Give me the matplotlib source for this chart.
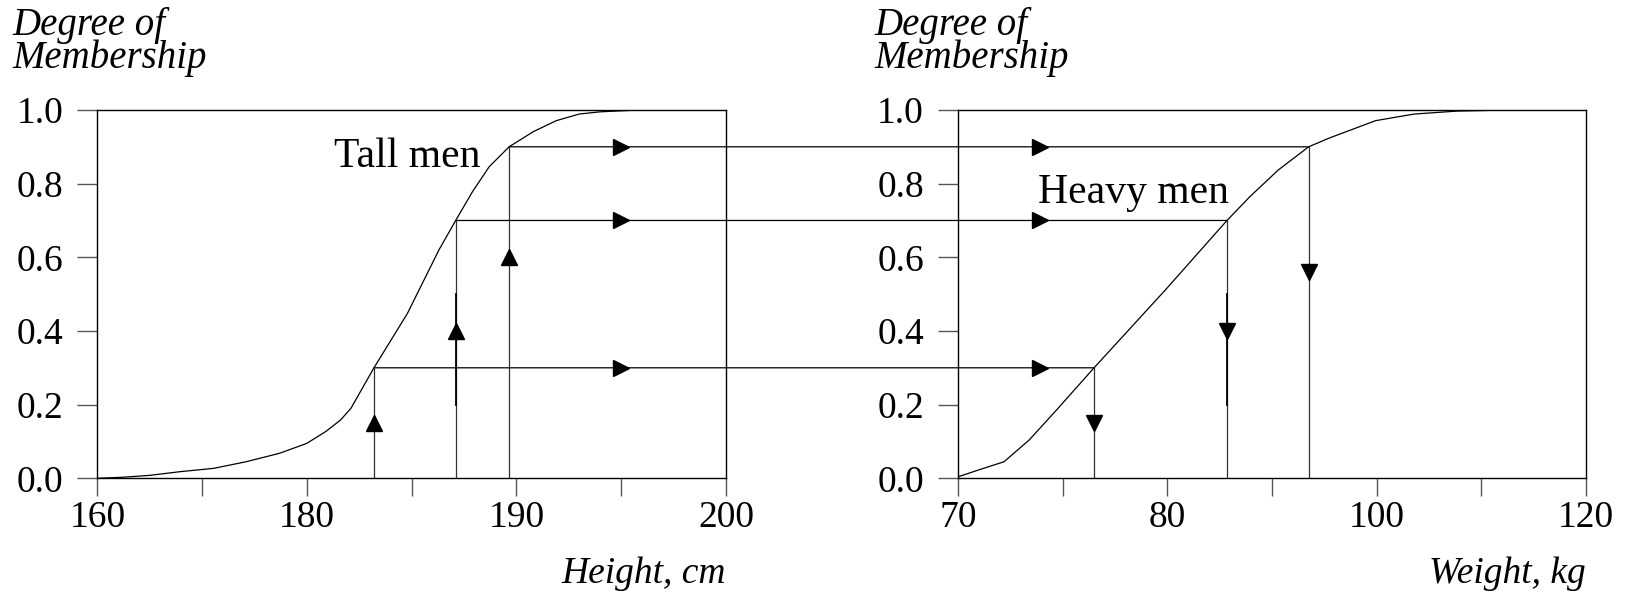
"""
Fuzzy sets: Tall men / Heavy men membership functions
"""

import matplotlib
matplotlib.use('Agg')
import matplotlib.pyplot as plt
from matplotlib.patches import ConnectionPatch
import numpy as np

plt.rcParams['font.family'] = ['Liberation Serif', 'DejaVu Serif']

#---------------------------------------------------------------------------------------------------
# Data
#---------------------------------------------------------------------------------------------------

# Tall men membership curve
height_cm = [160, 162.5, 165.0, 167.9, 171.1, 174.2, 177.4, 180.0, 180.9, 181.6, 182.1, 183.2,
             184.8, 186.3, 187.1, 187.9, 188.7, 189.65, 190.8, 191.9, 193.0, 194.0, 195.5, 200]
tall_mu = [0.0, 0.003, 0.008, 0.018, 0.027, 0.045, 0.068, 0.095, 0.127, 0.158, 0.19, 0.3,
           0.448, 0.62, 0.7, 0.778, 0.846, 0.9, 0.941, 0.971, 0.989, 0.995, 0.999, 1.0]

# Heavy men membership curve
weight_kg = [70, 71.0, 72.2, 73.4, 74.7, 76.5, 79.9, 85.7, 87.9, 90.6, 93.5, 95.4, 99.9,
             103.6, 107.7, 112.7, 120]
heavy_mu = [0.004, 0.023, 0.045, 0.104, 0.185, 0.3, 0.511, 0.7, 0.765, 0.837, 0.9, 0.923,
            0.971, 0.989, 0.997, 1.0, 1.0]

# Degree of membership levels that are carried across
cut_mu = [0.3, 0.7, 0.9]
height_cut = [183.2, 187.1, 189.65]
weight_cut = [76.5, 85.7, 93.5]

# Arrowhead positions
up_arrow_mu = [0.15, 0.40, 0.60]
down_arrow_mu = [0.15, 0.40, 0.56]
height_arrow_x = 195
weight_arrow_x = 73.9

# Axis ticks (labels are evenly spaced on the drawing)
height_ticks = [160, 180, 190, 200]
height_minor = [170, 185, 195]
weight_ticks = [70, 80, 100, 120]
weight_minor = [75, 90, 110]
mu_ticks = [0.0, 0.2, 0.4, 0.6, 0.8, 1.0]


#---------------------------------------------------------------------------------------------------
# Create Plot
#---------------------------------------------------------------------------------------------------

def piecewise_scale(nodes):
    pos = np.arange(len(nodes), dtype=float)
    fwd = lambda v: np.interp(v, nodes, pos)
    inv = lambda u: np.interp(u, pos, nodes)
    return fwd, inv


fig = plt.figure(figsize=(16.34, 5.99), dpi=100)
ax1 = fig.add_axes([0.0596, 0.2015, 0.3847, 0.6149])
ax2 = fig.add_axes([0.5863, 0.2015, 0.3843, 0.6149])

lw = 0.9
fs = 27
fs_text = 30

for ax, ticks, minor in [(ax1, height_ticks, height_minor), (ax2, weight_ticks, weight_minor)]:
    ax.set_xscale('function', functions=piecewise_scale(ticks))
    ax.set_xlim(ticks[0], ticks[-1])
    ax.set_ylim(0, 1)
    ax.set_xticks(ticks)
    ax.set_xticklabels([str(t) for t in ticks])
    ax.set_xticks(minor, minor=True)
    ax.set_yticks(mu_ticks)
    ax.set_yticklabels(['%.1f' % v for v in mu_ticks])
    ax.tick_params(axis='x', which='both', direction='out', length=13, width=1.0,
                   color='#555555', pad=3, labelsize=fs)
    ax.tick_params(axis='y', which='both', direction='out', length=14.5, width=1.0,
                   color='#555555', pad=10, labelsize=fs)
    for s in ax.spines.values():
        s.set_linewidth(1.0)
        s.set_color('k')

# Curves
ax1.plot(height_cm, tall_mu, color='k', lw=lw)
ax2.plot(weight_kg, heavy_mu, color='k', lw=lw)

# Vertical lines
for x, m in zip(height_cut, cut_mu):
    ax1.plot([x, x], [0, m], color='#333333', lw=lw)
for x, m in zip(weight_cut, cut_mu):
    ax2.plot([x, x], [0, m], color='#333333', lw=lw)
# darker shaft segments on the middle cut
ax1.plot([height_cut[1]] * 2, [0.2, 0.5], color='k', lw=1.3)
ax2.plot([weight_cut[1]] * 2, [0.2, 0.5], color='k', lw=1.3)

# Horizontal lines carried from one set to the other
for xa, xb, m in zip(height_cut, weight_cut, cut_mu):
    con = ConnectionPatch(xyA=(xa, m), coordsA=ax1.transData,
                          xyB=(xb, m), coordsB=ax2.transData,
                          color='k', lw=lw)
    fig.add_artist(con)

# Arrowheads
ax1.plot([height_arrow_x] * 3, cut_mu, '>', ms=12, color='k', zorder=5)
ax1.plot(height_cut, up_arrow_mu, '^', ms=12, color='k', zorder=5)
ax2.plot([weight_arrow_x] * 3, cut_mu, '>', ms=12, color='k', zorder=5)
ax2.plot(weight_cut, down_arrow_mu, 'v', ms=12, color='k', zorder=5)

# Labels
ax1.text(181.3, 0.846, 'Tall men', fontsize=fs_text, ha='left', va='baseline')
ax2.text(73.8, 0.747, 'Heavy men', fontsize=fs_text, ha='left', va='baseline')

ax1.text(1.0, -0.285, 'Height, cm', transform=ax1.transAxes, fontsize=fs,
         style='italic', ha='right', va='baseline')
ax2.text(1.0, -0.285, 'Weight, kg', transform=ax2.transAxes, fontsize=fs,
         style='italic', ha='right', va='baseline')

for x0 in [12.7 / 1634, 874.5 / 1634]:
    fig.text(x0, 1 - 68.3 / 599, 'Degree of\nMembership', fontsize=28, style='italic',
             ha='left', va='baseline', linespacing=0.86)

plt.savefig('out.png', dpi=100)
